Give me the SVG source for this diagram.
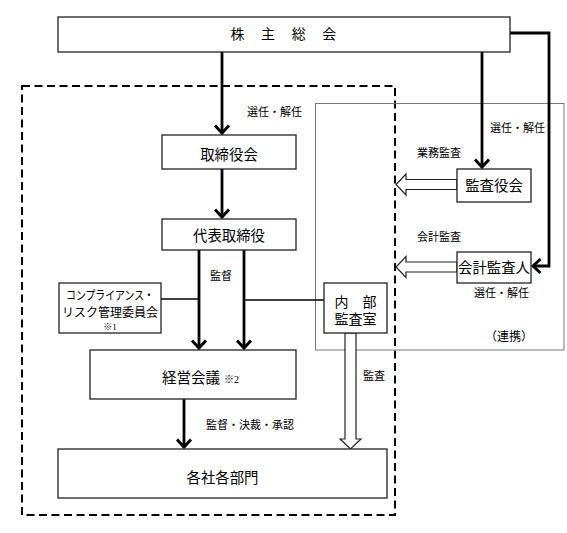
<svg xmlns="http://www.w3.org/2000/svg" width="567" height="533" viewBox="0 0 567 533">
<style>
.box{fill:#fff;stroke:#222;stroke-width:1.3}
.t{font-family:"Liberation Serif","Noto Sans CJK JP",serif;fill:#000}
.big{font-size:14.4px}
.lbl{font-size:11px}
.thick{fill:none;stroke:#000;stroke-width:2.8}
.hollow{fill:#fff;stroke:#222;stroke-width:1.2}
</style>
<defs>
<marker id="ah" markerUnits="userSpaceOnUse" markerWidth="20" markerHeight="20" refX="10" refY="10" orient="auto">
<path d="M2.5,3 L10,10 L2.5,17" fill="none" stroke="#000" stroke-width="3"/>
</marker>
</defs>
<rect width="567" height="533" fill="#fff"/>
<g id="frames">
<rect x="22" y="86" width="373" height="429" fill="none" stroke="#000" stroke-width="2" stroke-dasharray="8 4.5"/>
<rect x="315.5" y="103.5" width="248.5" height="246.5" fill="none" stroke="#777" stroke-width="1"/>
</g>
<g id="connectors">
<line class="thick" x1="222" y1="52" x2="222" y2="133" marker-end="url(#ah)"/>
<line class="thick" x1="222" y1="169" x2="222" y2="217" marker-end="url(#ah)"/>
<line class="thick" x1="199" y1="250" x2="199" y2="348" marker-end="url(#ah)"/>
<line class="thick" x1="244" y1="250" x2="244" y2="348" marker-end="url(#ah)"/>
<line x1="161" y1="299" x2="199" y2="299" stroke="#000" stroke-width="1.6"/>
<line x1="244" y1="300" x2="324" y2="300" stroke="#000" stroke-width="1.6"/>
<line class="thick" x1="184" y1="399" x2="184" y2="447" marker-end="url(#ah)"/>
<line class="thick" x1="482" y1="52" x2="482" y2="167" marker-end="url(#ah)"/>
<polyline class="thick" points="510,33 549,33 549,266 533,266" marker-end="url(#ah)"/>
<polygon class="hollow" points="457,179.5 406,179.5 406,174 396,184.5 406,195 406,189.5 457,189.5"/>
<polygon class="hollow" points="457,262 406,262 406,256.5 396,267 406,277.5 406,272 457,272"/>
<polygon class="hollow" points="345,333 345,439 340,439 350.5,449 361,439 356,439 356,333"/>
</g>
<g id="n-shareholders">
<rect class="box" x="58" y="17" width="452" height="35"/>
<text class="t" x="284" y="38.5" font-size="14" text-anchor="middle" letter-spacing="1.3">株　主　総　会</text>
</g>
<g id="n-board">
<rect class="box" x="162" y="135" width="134" height="34"/>
<text class="t big" x="229" y="159.5" text-anchor="middle">取締役会</text>
</g>
<g id="n-president">
<rect class="box" x="162" y="219" width="134" height="31"/>
<text class="t big" x="229" y="240.5" text-anchor="middle">代表取締役</text>
</g>
<g id="n-compliance">
<rect class="box" x="59" y="283" width="102" height="50"/>
<text class="t" x="110" y="299.5" font-size="12" text-anchor="middle" textLength="88" lengthAdjust="spacingAndGlyphs">コンプライアンス・</text>
<text class="t" x="110" y="316.5" font-size="12" text-anchor="middle">リスク管理委員会</text>
<text class="t" x="110" y="330" font-size="9" text-anchor="middle">※1</text>
</g>
<g id="n-mgmt">
<rect class="box" x="90" y="350" width="206" height="49"/>
<text class="t" x="162" y="382.5" font-size="14.5">経営会議<tspan font-size="10" dx="4">※2</tspan></text>
</g>
<g id="n-depts">
<rect class="box" x="58" y="449" width="329" height="49"/>
<text class="t" x="222.5" y="482.5" font-size="14.4" text-anchor="middle">各社各部門</text>
</g>
<g id="n-auditboard">
<rect class="box" x="457" y="169" width="74" height="33"/>
<text class="t big" x="494" y="191" text-anchor="middle">監査役会</text>
</g>
<g id="n-accountant">
<rect class="box" x="457" y="252" width="74" height="31"/>
<text class="t big" x="494" y="273" text-anchor="middle">会計監査人</text>
</g>
<g id="n-internal">
<rect class="box" x="324" y="283" width="63" height="50"/>
<text class="t" x="355.5" y="306.5" font-size="14" text-anchor="middle">内　部</text>
<text class="t" x="355.5" y="324" font-size="14" text-anchor="middle">監査室</text>
</g>
<g id="labels">
<text class="t lbl" x="247" y="116">選任・解任</text>
<text class="t lbl" x="490" y="132">選任・解任</text>
<text class="t lbl" x="417" y="157">業務監査</text>
<text class="t lbl" x="417" y="241">会計監査</text>
<text class="t lbl" x="474" y="297">選任・解任</text>
<text class="t lbl" x="210" y="280">監督</text>
<text class="t lbl" x="206" y="429">監督・決裁・承認</text>
<text class="t lbl" x="363" y="380">監査</text>
<text class="t" x="485" y="340.5" font-size="12">（連携）</text>
</g>
</svg>
